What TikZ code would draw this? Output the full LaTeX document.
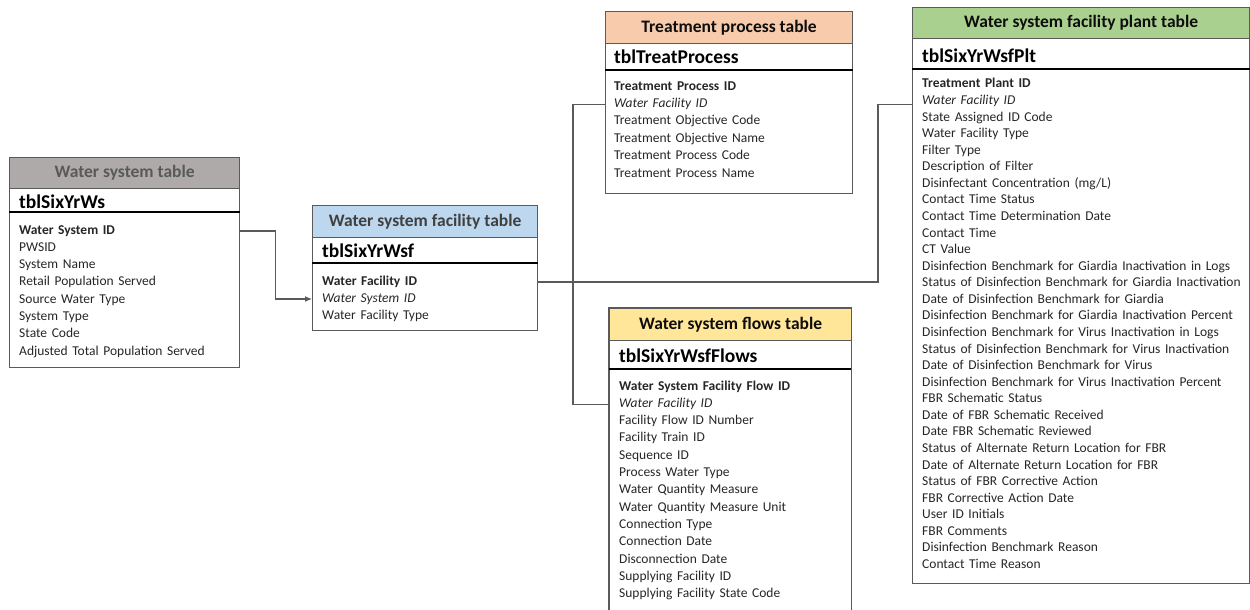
\documentclass[tikz,border=0pt]{standalone}
\usepackage{fontspec}
\setmainfont{Carlito}
\usetikzlibrary{calc,arrows.meta}
\definecolor{hdrgray}{HTML}{AEAAAA}
\definecolor{hdrblue}{HTML}{BDD7EE}
\definecolor{hdrpeach}{HTML}{F8CBAD}
\definecolor{hdrgreen}{HTML}{A9D08E}
\definecolor{hdryellow}{HTML}{FFE699}
\definecolor{edge}{HTML}{5A5A5A}
\definecolor{fieldtxt}{HTML}{262626}
\definecolor{titlegray}{HTML}{595959}
\definecolor{titledark}{HTML}{404040}
\definecolor{titleblack}{HTML}{0D0D0D}
\newcommand\myfieldfont{\fontsize{13.5}{15}\selectfont\spaceskip=4.6pt plus 1pt\relax}
\tikzset{
  tblbox/.style={draw=edge, line width=1.2pt, anchor=north west, inner sep=0pt},
  openbox/.style={anchor=north west, inner sep=0pt},
  hdrbox/.style={draw=edge, line width=1.2pt, anchor=north west, inner sep=0pt, font=\fontsize{17.5}{20}\selectfont\bfseries},
  tblname/.style={anchor=west, inner sep=0pt, font=\fontsize{19.5}{22}\selectfont\bfseries, text=black},
  field/.style={anchor=west, inner sep=0pt, text height=9pt, text depth=3pt, font=\myfieldfont, text=fieldtxt},
  sepline/.style={line width=1.8pt, black},
  edgeline/.style={draw=edge, line width=1.2pt},
  conn/.style={draw=edge, line width=1.2pt},
}
\begin{document}
\begin{tikzpicture}[x=1pt,y=-1pt]
\useasboundingbox (0,0) rectangle (1250,610);

% ---------- Water system table ----------
\node[tblbox, minimum width=230pt, minimum height=210pt] (ws) at (9,157) {};
\node[hdrbox, fill=hdrgray, text=titlegray, minimum width=230pt, minimum height=31pt] (wshdr) at (9,157) {Water system table};
\draw[sepline] ([yshift=-55pt]ws.north west) -- ([yshift=-55pt]ws.north east);
\node[tblname] (wsname) at (19,202) {tblSixYrWs};
\foreach \t [count=\i] in {\textbf{Water System ID}, PWSID, System Name, Retail Population Served, Source Water Type, System Type, State Code, Adjusted Total Population Served}
  \node[field] (ws-\i) at (19,{231+17.3*(\i-1)}) {\t};

% ---------- Water system facility table ----------
\node[tblbox, minimum width=225pt, minimum height=125pt] (wsf) at (312,205) {};
\node[hdrbox, fill=hdrblue, text=titledark, minimum width=225pt, minimum height=32pt] (wsfhdr) at (312,205) {Water system facility table};
\draw[sepline] ([yshift=-58pt]wsf.north west) -- ([yshift=-58pt]wsf.north east);
\node[tblname] (wsfname) at (322,251) {tblSixYrWsf};
\foreach \t [count=\i] in {\textbf{Water Facility ID}, \textit{Water System ID}, Water Facility Type}
  \node[field] (wsf-\i) at (322,{282+17*(\i-1)}) {\t};

% ---------- Treatment process table ----------
\node[tblbox, minimum width=247pt, minimum height=182pt] (tp) at (605,11) {};
\node[hdrbox, fill=hdrpeach, text=titleblack, minimum width=247pt, minimum height=32pt] (tphdr) at (605,11) {Treatment process table};
\draw[sepline] ([yshift=-59pt]tp.north west) -- ([yshift=-59pt]tp.north east);
\node[tblname] (tpname) at (614,57) {tblTreatProcess};
\foreach \t [count=\i] in {\textbf{Treatment Process ID}, \textit{Water Facility ID}, Treatment Objective Code, Treatment Objective Name, Treatment Process Code, Treatment Process Name}
  \node[field] (tp-\i) at (614,{87+17.4*(\i-1)}) {\t};

% ---------- Water system facility plant table ----------
\node[tblbox, minimum width=337pt, minimum height=576pt] (plant) at (912,7) {};
\node[hdrbox, fill=hdrgreen, text=titleblack, minimum width=337pt, minimum height=31pt] (planthdr) at (912,7) {Water system facility plant table};
\draw[sepline] ([yshift=-62pt]plant.north west) -- ([yshift=-62pt]plant.north east);
\node[tblname] (plantname) at (922,56) {tblSixYrWsfPlt};
\foreach \t [count=\i] in {\textbf{Treatment Plant ID}, \textit{Water Facility ID}, State Assigned ID Code, Water Facility Type, Filter Type, Description of Filter, Disinfectant Concentration (mg/L), Contact Time Status, Contact Time Determination Date, Contact Time, CT Value, Disinfection Benchmark for Giardia Inactivation in Logs, Status of Disinfection Benchmark for Giardia Inactivation, Date of Disinfection Benchmark for Giardia, Disinfection Benchmark for Giardia Inactivation Percent, Disinfection Benchmark for Virus Inactivation in Logs, Status of Disinfection Benchmark for Virus Inactivation, Date of Disinfection Benchmark for Virus, Disinfection Benchmark for Virus Inactivation Percent, FBR Schematic Status, Date of FBR Schematic Received, Date FBR Schematic Reviewed, Status of Alternate Return Location for FBR, Date of Alternate Return Location for FBR, Status of FBR Corrective Action, FBR Corrective Action Date, User ID Initials, FBR Comments, Disinfection Benchmark Reason, Contact Time Reason}
  \node[field] (plant-\i) at (922,{85+16.57*(\i-1)}) {\t};

% ---------- Water system flows table ----------
\node[openbox, minimum width=242pt, minimum height=307pt] (fl) at (609,308) {};
\draw[edgeline] (fl.south west) -- (fl.north west) -- (fl.north east) -- (fl.south east);
\node[hdrbox, fill=hdryellow, text=titleblack, minimum width=242pt, minimum height=32pt] (flhdr) at (609,308) {Water system flows table};
\draw[sepline] ([yshift=-61pt]fl.north west) -- ([yshift=-61pt]fl.north east);
\node[tblname] (flname) at (619,356) {tblSixYrWsfFlows};
\foreach \t [count=\i] in {\textbf{Water System Facility Flow ID}, \textit{Water Facility ID}, Facility Flow ID Number, Facility Train ID, Sequence ID, Process Water Type, Water Quantity Measure, Water Quantity Measure Unit, Connection Type, Connection Date, Disconnection Date, Supplying Facility ID, Supplying Facility State Code}
  \node[field] (fl-\i) at (619,{387+17.3*(\i-1)}) {\t};

% ---------- Connectors ----------
\draw[conn, -{Latex[length=7pt,width=6pt]}] (ws.east |- ws-1) -- ++(35,0) |- (wsf.west |- wsf-2);
\draw[conn] (wsf.east |- wsf-1) -| ($([yshift=-3pt]plant.west |- plant-2)+(-34,0)$) -- ([yshift=-3pt]plant.west |- plant-2);
\draw[conn] (tp.west |- tp-2) -- ++(-32,0) |- (fl.west |- fl-2);
\end{tikzpicture}
\end{document}
